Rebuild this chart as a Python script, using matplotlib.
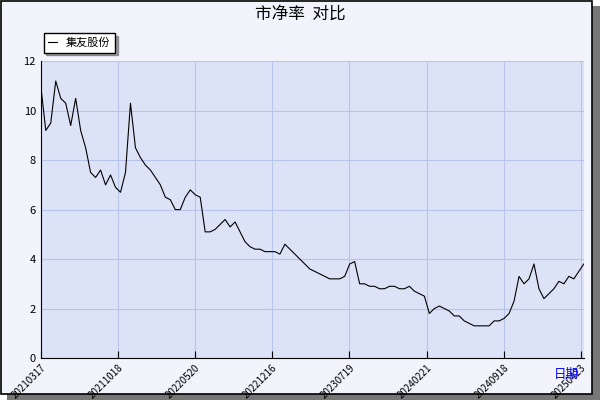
import matplotlib.pyplot as plt
import numpy as np

plt.rcParams['font.family'] = ['Noto Sans CJK SC', 'DejaVu Sans']

# values sampled roughly every 5 px across the plot
pb = [11.0, 9.2, 9.5, 11.2, 10.5, 10.3, 9.4, 10.5, 9.2, 8.5, 7.5, 7.3, 7.6, 7.0, 7.4,
      6.9, 6.7, 7.5, 10.3, 8.5, 8.1, 7.8, 7.6, 7.3, 7.0, 6.5, 6.4, 6.0, 6.0, 6.5, 6.8,
      6.6, 6.5, 5.1, 5.1, 5.2, 5.4, 5.6, 5.3, 5.5, 5.1, 4.7, 4.5, 4.4, 4.4, 4.3, 4.3,
      4.3, 4.2, 4.6, 4.4, 4.2, 4.0, 3.8, 3.6, 3.5, 3.4, 3.3, 3.2, 3.2, 3.2, 3.3, 3.8,
      3.9, 3.0, 3.0, 2.9, 2.9, 2.8, 2.8, 2.9, 2.9, 2.8, 2.8, 2.9, 2.7, 2.6, 2.5, 1.8,
      2.0, 2.1, 2.0, 1.9, 1.7, 1.7, 1.5, 1.4, 1.3, 1.3, 1.3, 1.3, 1.5, 1.5, 1.6, 1.8,
      2.3, 3.3, 3.0, 3.2, 3.8, 2.8, 2.4, 2.6, 2.8, 3.1, 3.0, 3.3, 3.2, 3.5, 3.8]
dates = ["20210317", "20211018", "20220520", "20221216", "20230719",
         "20240221", "20240918", "20250423"]

x = np.arange(len(pb))
xmax = len(pb) - 1
tick_pos = np.linspace(0, xmax * 538 / 541, len(dates))

fig = plt.figure(figsize=(6, 4), dpi=100, facecolor="white")

# outer frame with grey drop shadow
fig.patches.append(plt.Rectangle((0.012, 0.0), 0.988, 0.985, transform=fig.transFigure,
                                 facecolor="#777777", edgecolor="none", zorder=-2))
fig.patches.append(plt.Rectangle((0.002, 0.014), 0.985, 0.984, transform=fig.transFigure,
                                 facecolor="#f2f3fb", edgecolor="black", linewidth=1.2,
                                 zorder=-1))

ax = fig.add_axes([0.068, 0.105, 0.905, 0.742], facecolor="#dde3f7")

ax.plot(x, pb, color="black", linewidth=0.8, label="集友股份")

ax.set_xlim(0, xmax)
ax.set_ylim(0, 12)
ax.set_yticks(range(0, 13, 2))
ax.set_xticks(tick_pos)
ax.set_xticklabels(dates, rotation=45, ha="right", fontsize=7, rotation_mode="anchor")
ax.tick_params(axis="y", labelsize=8, length=0)
ax.tick_params(axis="x", direction="in", length=5)
ax.grid(True, color="#b8c4ec", linewidth=0.8)
for s in ["top", "right"]:
    ax.spines[s].set_visible(False)

fig.text(0.5, 0.965, "市净率  对比", ha="center", va="center", fontsize=12)
fig.text(0.965, 0.065, "日期", ha="right", va="center", fontsize=9, color="blue")
ax.legend(loc="lower left", bbox_to_anchor=(-0.005, 1.01), fontsize=8,
          frameon=True, fancybox=False, edgecolor="black", shadow=True,
          handlelength=0.8, borderpad=0.4)

fig.savefig("out.png", dpi=100)
